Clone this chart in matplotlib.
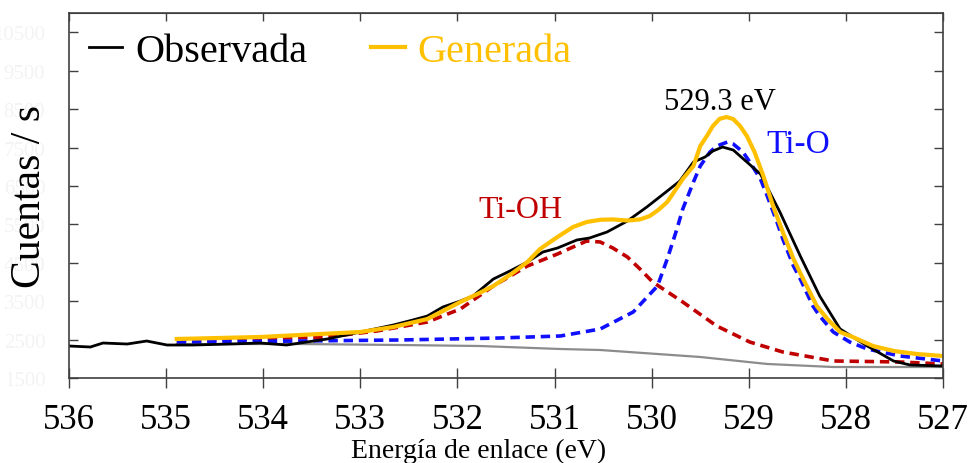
import matplotlib
matplotlib.use("Agg")
import matplotlib.pyplot as plt

plt.rcParams['font.family'] = ['Liberation Serif', 'DejaVu Serif']

# observed spectrum (binding energy eV, counts/s)
obs_x = [536.0, 535.78, 535.65, 535.40, 535.20, 534.99, 534.72, 534.34, 534.03, 533.76,
         533.34, 533.00, 532.66, 532.46, 532.31, 532.15, 531.97, 531.84, 531.63, 531.46,
         531.28, 531.12, 530.97, 530.77, 530.64, 530.46, 530.25, 530.05, 529.84, 529.71,
         529.57, 529.45, 529.37, 529.27, 529.16, 529.02, 528.88, 528.68, 528.47, 528.27,
         528.06, 527.78, 527.51, 527.34, 527.0]
obs_y = [2333, 2307, 2411, 2385, 2463, 2359, 2359, 2385, 2411, 2359,
         2516, 2698, 2880, 3010, 3114, 3349, 3505, 3635, 4078, 4286,
         4521, 4781, 4885, 5094, 5146, 5302, 5588, 5953, 6369, 6630,
         7125, 7255, 7411, 7515, 7437, 7125, 6812, 5823, 4677, 3635,
         2776, 2333, 1943, 1839, 1812]

# generated envelope
gen_x = [534.89, 534.03, 533.00, 532.66, 532.31, 531.97, 531.80, 531.63, 531.45, 531.28,
         531.15, 530.97, 530.81, 530.67, 530.53, 530.40, 530.25, 530.12, 530.02, 529.93,
         529.84, 529.76, 529.68, 529.57, 529.50, 529.43, 529.37, 529.30, 529.23, 529.16,
         529.09, 529.02, 528.94, 528.85, 528.75, 528.65, 528.54, 528.44, 528.30, 528.19,
         528.06, 527.93, 527.72, 527.50, 527.27, 527.0]
gen_y = [2516, 2568, 2698, 2828, 3036, 3479, 3680, 3896, 4200, 4521,
         4859, 5172, 5432, 5562, 5620, 5630, 5600, 5630, 5718, 5880,
         6083, 6380, 6682, 7020, 7541, 7810, 8062, 8250, 8296, 8244,
         8062, 7802, 7380, 6760, 5979, 5302, 4599, 4078, 3375, 3036,
         2698, 2568, 2333, 2200, 2125, 2073]

# Ti-O component
tio_x = [534.89, 533.62, 532.59, 531.56, 530.94, 530.53, 530.19, 529.94, 529.84, 529.74,
         529.68, 529.57, 529.50, 529.40, 529.33, 529.22, 529.16, 529.06, 528.99, 528.88,
         528.81, 528.71, 528.65, 528.54, 528.47, 528.34, 528.27, 528.13, 527.96, 527.78,
         527.44, 527.0]
tio_y = [2437, 2463, 2490, 2542, 2594, 2776, 3219, 3896, 4599, 5380,
         5901, 6604, 7020, 7385, 7541, 7645, 7593, 7385, 7125, 6682,
         6240, 5562, 5120, 4417, 4078, 3375, 3114, 2698, 2437, 2255,
         2073, 1943]

# Ti-OH component
tioh_x = [534.89, 533.34, 532.83, 532.31, 531.97, 531.63, 531.28, 530.97, 530.81, 530.67,
          530.53, 530.40, 530.25, 530.12, 529.99, 529.68, 529.33, 528.99, 528.65, 528.13,
          527.44, 527.0]
tioh_y = [2463, 2568, 2724, 2958, 3297, 3896, 4416, 4729, 4911, 5067,
          5042, 4885, 4651, 4338, 4000, 3479, 2854, 2437, 2177, 1943,
          1917, 1865]

# background
bg_x = [534.89, 533.62, 532.59, 531.77, 530.94, 530.53, 529.50, 528.81, 528.13, 527.0]
bg_y = [2385, 2385, 2359, 2333, 2255, 2229, 2047, 1865, 1786, 1786]

xticks = [536, 535, 534, 533, 532, 531, 530, 529, 528, 527]
yticks = [1500, 2500, 3500, 4500, 5500, 6500, 7500, 8500, 9500, 10500]

fig = plt.figure(figsize=(9.73, 4.64), dpi=100)
ax = fig.add_axes([0.0709, 0.1832, 0.8983, 0.7866])

ax.plot(bg_x, bg_y, color='#8c8c8c', lw=1.6)
ax.plot(tioh_x, tioh_y, color='#c00000', lw=2.6, dashes=(2.6, 1.6))
ax.plot(tio_x, tio_y, color='#1010ff', lw=2.6, dashes=(2.6, 1.6))
ax.plot(obs_x, obs_y, color='black', lw=2.0, label='Observada')
ax.plot(gen_x, gen_y, color='#ffc000', lw=3.0, label='Generada')

ax.set_xlim(536, 527)
ax.set_ylim(1500, 11005)
ax.set_xticks(xticks)
ax.set_yticks(yticks)

for s in ax.spines.values():
    s.set_color('#404040')
    s.set_linewidth(1.2)

ax.tick_params(axis='x', direction='inout', length=14, width=1.0, color='#404040',
               labelsize=25, pad=11)
ax.tick_params(axis='y', direction='in', length=6.5, width=1.0, color='#404040',
               right=True, labelsize=15, labelcolor='#f3f3f3', pad=17)

top = ax.secondary_xaxis('top')
top.set_xticks(xticks)
top.tick_params(direction='in', length=6, width=1.0, color='#404040', labeltop=False)
top.spines['top'].set_color('#404040')

ax.set_xlabel('Energía de enlace (eV)', fontsize=20)
ax.xaxis.set_label_coords(0.469, -0.164)
ax.set_ylabel('Cuentas / s', fontsize=30)
ax.yaxis.set_label_coords(-0.023, 0.5)

ax.text(529.30, 8505, '529.3 eV', fontsize=22, ha='center', va='baseline', color='black')
ax.text(528.49, 7385, 'Ti-O', fontsize=24, ha='center', va='baseline', color='#1010ff')
ax.text(531.35, 5692, 'Ti-OH', fontsize=23, ha='center', va='baseline', color='#c00000')

ax.legend(loc='center left', bbox_to_anchor=(0.0229, 0.895), ncol=2, frameon=False,
          fontsize=29, handlelength=0.82, handletextpad=0.32, columnspacing=1.6,
          borderpad=0, borderaxespad=0, labelcolor='linecolor')

fig.savefig('out.png', dpi=100)
